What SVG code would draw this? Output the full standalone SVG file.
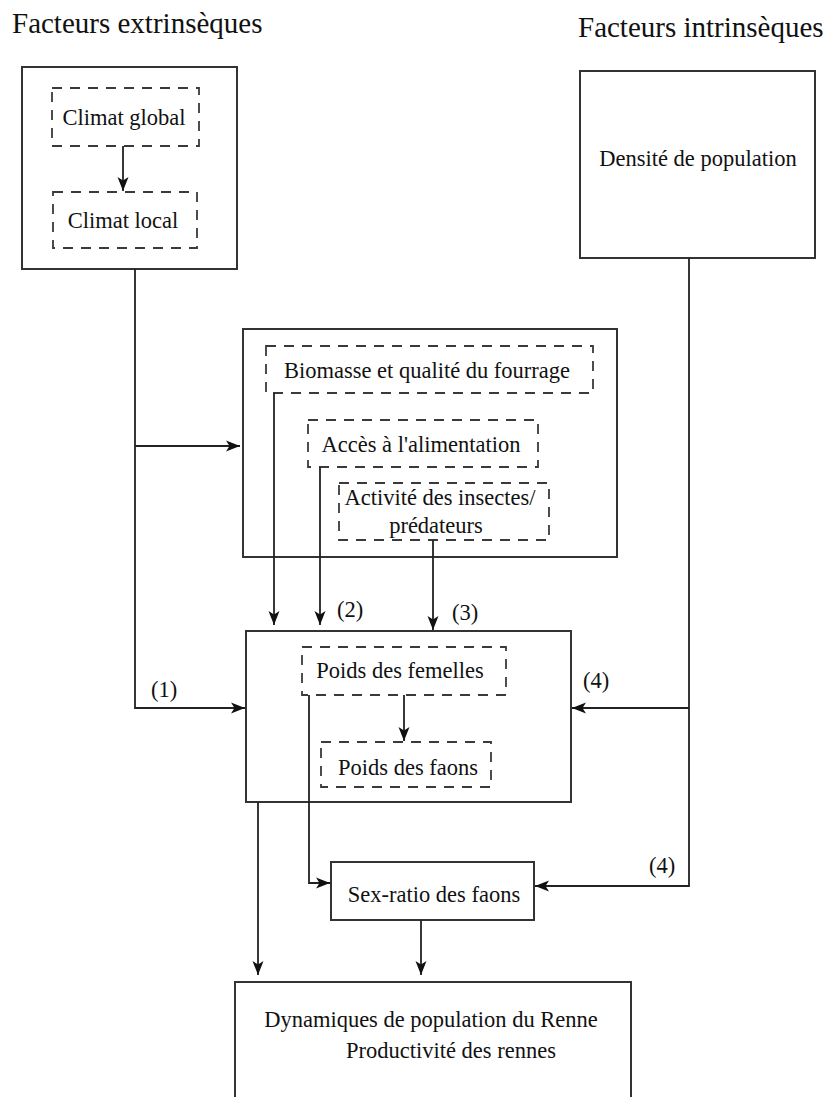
<svg xmlns="http://www.w3.org/2000/svg" width="830" height="1097" viewBox="0 0 830 1097">
<style>
text{font-family:"Liberation Serif","Times New Roman",serif;font-size:22.5px;fill:#111}
.title{font-size:29px}
.mid{text-anchor:middle}
.box{fill:none;stroke:#333;stroke-width:2}
.dash{fill:none;stroke:#3a3a3a;stroke-width:1.8;stroke-dasharray:10 8}
.con{fill:none;stroke:#222;stroke-width:1.8}
</style>
<defs>
<marker id="arr" viewBox="0 -6 15 12" refX="14" refY="0" markerWidth="15" markerHeight="12" markerUnits="userSpaceOnUse" orient="auto">
<path d="M0,-5.5 L14,0 L0,5.5 L3.5,0 z" fill="#111"/>
</marker>
</defs>
<rect width="830" height="1097" fill="#fff"/>
<text class="title" x="12" y="33">Facteurs extrinsèques</text>
<text class="title" x="578" y="37">Facteurs intrinsèques</text>

<g id="extrinseques">
<rect class="box" x="22" y="67" width="215" height="202"/>
</g>
<g id="climat-global">
<rect class="dash" x="52" y="88" width="147" height="58"/>
<text class="mid" x="124" y="125">Climat global</text>
</g>
<g id="climat-local">
<rect class="dash" x="53" y="192" width="144" height="56"/>
<text class="mid" x="123" y="228">Climat local</text>
</g>
<g id="densite">
<rect class="box" x="580" y="71" width="235" height="187"/>
<text class="mid" x="698" y="166">Densité de population</text>
</g>
<g id="ressources">
<rect class="box" x="243" y="329" width="374" height="228"/>
</g>
<g id="biomasse">
<rect class="dash" x="266" y="346" width="327" height="47"/>
<text class="mid" x="427" y="378">Biomasse et qualité du fourrage</text>
</g>
<g id="acces">
<rect class="dash" x="308" y="420" width="230" height="47"/>
<text class="mid" x="421" y="452">Accès à l'alimentation</text>
</g>
<g id="activite">
<rect class="dash" x="339" y="483" width="210" height="57"/>
<text class="mid" x="440" y="505">Activité des insectes/</text>
<text class="mid" x="436" y="533">prédateurs</text>
</g>
<g id="poids">
<rect class="box" x="246" y="631" width="325" height="171"/>
</g>
<g id="poids-femelles">
<rect class="dash" x="302" y="647" width="204" height="48"/>
<text class="mid" x="400" y="678">Poids des femelles</text>
</g>
<g id="poids-faons">
<rect class="dash" x="321" y="742" width="170" height="45"/>
<text class="mid" x="408" y="775">Poids des faons</text>
</g>
<g id="sex-ratio">
<rect class="box" x="331" y="862" width="203" height="58"/>
<text class="mid" x="434" y="902">Sex-ratio des faons</text>
</g>
<g id="dynamiques">
<rect class="box" x="235" y="982" width="396" height="140"/>
<text class="mid" x="431" y="1027">Dynamiques de population du Renne</text>
<text class="mid" x="451" y="1058">Productivité des rennes</text>
</g>

<g id="connectors">
<line class="con" x1="123" y1="146" x2="123" y2="191" marker-end="url(#arr)"/>
<polyline class="con" points="135,269 135,708 245,708" marker-end="url(#arr)"/>
<line class="con" x1="135" y1="446" x2="240" y2="446" marker-end="url(#arr)"/>
<line class="con" x1="274" y1="393" x2="274" y2="625" marker-end="url(#arr)"/>
<line class="con" x1="320" y1="467" x2="320" y2="625" marker-end="url(#arr)"/>
<line class="con" x1="433" y1="540" x2="433" y2="630" marker-end="url(#arr)"/>
<polyline class="con" points="689,258 689,886 535,886" marker-end="url(#arr)"/>
<line class="con" x1="689" y1="708" x2="572" y2="708" marker-end="url(#arr)"/>
<line class="con" x1="404" y1="695" x2="404" y2="741" marker-end="url(#arr)"/>
<polyline class="con" points="309,695 309,883 330,883" marker-end="url(#arr)"/>
<line class="con" x1="258" y1="802" x2="258" y2="975" marker-end="url(#arr)"/>
<line class="con" x1="421" y1="920" x2="421" y2="975" marker-end="url(#arr)"/>
<text x="151" y="697">(1)</text>
<text x="337" y="617">(2)</text>
<text x="452" y="620">(3)</text>
<text x="583" y="688">(4)</text>
<text x="649" y="873">(4)</text>
</g>
</svg>
